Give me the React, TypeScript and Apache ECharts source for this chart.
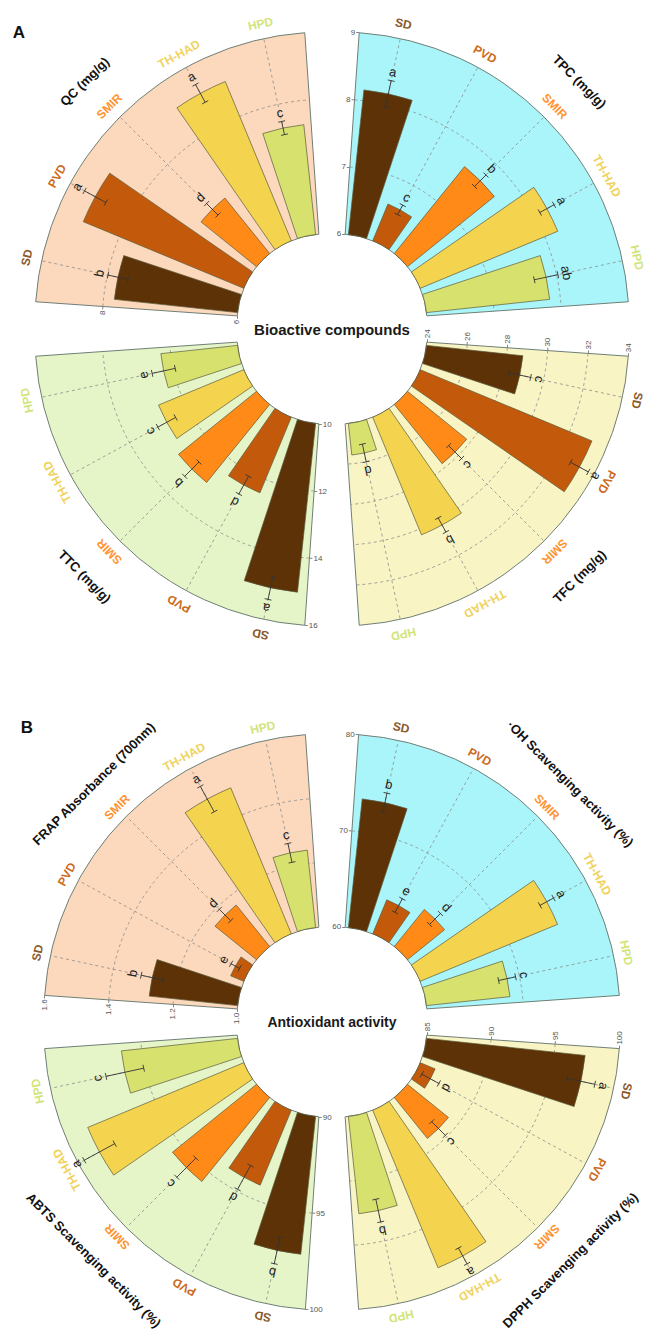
import React, { useEffect, useRef } from 'react';
import * as echarts from 'echarts';

const CATEGORIES = ['SD', 'PVD', 'SMIR', 'TH-HAD', 'HPD'];
const BAR_COLORS = ['#5d3206', '#c35a0b', '#ff8a18', '#f4d44e', '#d7e26e'];
const LABEL_COLORS = ['#8a5a2c', '#cc6a20', '#ff9330', '#f0d35e', '#d2e47c'];

// Panel A: bioactive compounds
const QC_VALUES = [7.84, 8.58, 7.06, 8.56, 7.64];
const QC_ERRORS = [0.15, 0.18, 0.12, 0.15, 0.1];
const QC_LETTERS = ['b', 'a', 'd', 'a', 'c'];
const QC_RANGE = [6, 9];
const QC_STEP = 2;

const TPC_VALUES = [8.16, 6.59, 7.66, 8.21, 7.84];
const TPC_ERRORS = [0.2, 0.08, 0.12, 0.12, 0.18];
const TPC_LETTERS = ['a', 'c', 'b', 'a', 'ab'];
const TPC_RANGE = [6, 9];
const TPC_STEP = 1;

const TFC_VALUES = [28.8, 33.2, 27.77, 30.3, 25.57];
const TFC_ERRORS = [0.55, 0.5, 0.45, 0.4, 0.45];
const TFC_LETTERS = ['c', 'a', 'c', 'b', 'd'];
const TFC_RANGE = [24, 34];
const TFC_STEP = 2;

const TTC_VALUES = [15.04, 12.43, 12.98, 12.74, 12.29];
const TTC_ERRORS = [0.35, 0.3, 0.3, 0.3, 0.35];
const TTC_LETTERS = ['a', 'd', 'b', 'c', 'e'];
const TTC_RANGE = [10, 16];
const TTC_STEP = 2;

// Panel B: antioxidant activity
const FRAP_VALUES = [1.276, 1.044, 1.166, 1.491, 1.242];
const FRAP_ERRORS = [0.035, 0.015, 0.025, 0.045, 0.03];
const FRAP_LETTERS = ['b', 'e', 'd', 'a', 'c'];
const FRAP_RANGE = [1.0, 1.6];
const FRAP_STEP = 0.2;

const OH_VALUES = [73.4, 63.8, 64.95, 75.4, 68.7];
const OH_ERRORS = [1.0, 0.8, 0.8, 0.8, 0.9];
const OH_LETTERS = ['b', 'e', 'd', 'a', 'c'];
const OH_RANGE = [60, 80];
const OH_STEP = 10;

const DPPH_VALUES = [97.4, 86.25, 89.1, 98.25, 92.6];
const DPPH_ERRORS = [1.1, 0.75, 0.75, 0.7, 0.9];
const DPPH_LETTERS = ['a', 'd', 'c', 'a', 'b'];
const DPPH_RANGE = [85, 100];
const DPPH_STEP = 5;

const ABTS_VALUES = [97.18, 94.2, 95.6, 98.75, 96.05];
const ABTS_ERRORS = [0.7, 0.7, 0.7, 0.9, 1.0];
const ABTS_LETTERS = ['b', 'd', 'c', 'a', 'c'];
const ABTS_RANGE = [90, 100];
const ABTS_STEP = 5;

const BG_PEACH = '#fcd9bc';
const BG_CYAN = '#aaf5fa';
const BG_YELLOW = '#f8f4c4';
const BG_GREEN = '#e6f5c8';

const FONT = '"Liberation Sans", Arial, Helvetica, sans-serif';

const POSITIONS: any = {
  tl: { start: 176, end: 94, dx: -1, dy: -1, labelRotate: 90 },
  tr: { start: 86, end: 4, dx: 1, dy: -1, labelRotate: 0 },
  br: { start: 356, end: 274, dx: 1, dy: 1, labelRotate: 90 },
  bl: { start: 266, end: 184, dx: -1, dy: 1, labelRotate: 0 },
};

const OFFSET = 7;
const INNER = 88;

const PANELS = [
  {
    letter: 'A', letterPos: [19, 32], title: 'Bioactive compounds', titleSize: 15,
    cx: 332, cy: 329, outer: 290, labelGap: 15, titleGap: 50,
    quadrants: [
      { pos: 'tl', title: 'QC (mg/g)', values: QC_VALUES, errors: QC_ERRORS, letters: QC_LETTERS, range: QC_RANGE, step: QC_STEP, bg: BG_PEACH, showMax: false, decimals: 0 },
      { pos: 'tr', title: 'TPC (mg/g)', values: TPC_VALUES, errors: TPC_ERRORS, letters: TPC_LETTERS, range: TPC_RANGE, step: TPC_STEP, bg: BG_CYAN, showMax: true, decimals: 0 },
      { pos: 'br', title: 'TFC (mg/g)', values: TFC_VALUES, errors: TFC_ERRORS, letters: TFC_LETTERS, range: TFC_RANGE, step: TFC_STEP, bg: BG_YELLOW, showMax: true, decimals: 0 },
      { pos: 'bl', title: 'TTC (mg/g)', values: TTC_VALUES, errors: TTC_ERRORS, letters: TTC_LETTERS, range: TTC_RANGE, step: TTC_STEP, bg: BG_GREEN, showMax: true, decimals: 0 },
    ],
  },
  {
    letter: 'B', letterPos: [27, 727], title: 'Antioxidant activity', titleSize: 14,
    cx: 332, cy: 1022, outer: 281, labelGap: 13, titleGap: 46,
    quadrants: [
      { pos: 'tl', title: 'FRAP Absorbance (700nm)', values: FRAP_VALUES, errors: FRAP_ERRORS, letters: FRAP_LETTERS, range: FRAP_RANGE, step: FRAP_STEP, bg: BG_PEACH, showMax: true, decimals: 1 },
      { pos: 'tr', title: '·OH Scavenging activity (%)', values: OH_VALUES, errors: OH_ERRORS, letters: OH_LETTERS, range: OH_RANGE, step: OH_STEP, bg: BG_CYAN, showMax: true, decimals: 0 },
      { pos: 'br', title: 'DPPH Scavenging activity (%)', values: DPPH_VALUES, errors: DPPH_ERRORS, letters: DPPH_LETTERS, range: DPPH_RANGE, step: DPPH_STEP, bg: BG_YELLOW, showMax: true, decimals: 0 },
      { pos: 'bl', title: 'ABTS Scavenging activity (%)', values: ABTS_VALUES, errors: ABTS_ERRORS, letters: ABTS_LETTERS, range: ABTS_RANGE, step: ABTS_STEP, bg: BG_GREEN, showMax: true, decimals: 0 },
    ],
  },
];

function buildOption() {
  const polar: any[] = [];
  const angleAxis: any[] = [];
  const radiusAxis: any[] = [];
  const series: any[] = [];
  const graphic: any[] = [];

  PANELS.forEach((panel) => {
    graphic.push({
      type: 'text', x: panel.letterPos[0], y: panel.letterPos[1], z: 10,
      style: { text: panel.letter, fill: '#111', fontSize: 17, fontWeight: 'bold', fontFamily: FONT, align: 'center', verticalAlign: 'middle' },
    });
    graphic.push({
      type: 'text', x: panel.cx, y: panel.cy, z: 10,
      style: { text: panel.title, fill: '#1a1a1a', fontSize: panel.titleSize, fontWeight: 'bold', fontFamily: FONT, align: 'center', verticalAlign: 'middle' },
    });

    panel.quadrants.forEach((q: any) => {
      const k = polar.length;
      const g = POSITIONS[q.pos];
      const cx = panel.cx + g.dx * OFFSET;
      const cy = panel.cy + g.dy * OFFSET;
      const [min, max] = q.range;
      const n = CATEGORIES.length;
      const tickCount = Math.round((max - min) / q.step + 1e-9);
      const ticks: number[] = [];
      for (let j = 1; j <= tickCount; j++) {
        const t = min + j * q.step;
        if (t < max - 1e-9) ticks.push(t);
      }

      polar.push({ center: [cx, cy], radius: [INNER, panel.outer] });
      angleAxis.push({
        polarIndex: k, type: 'category', data: CATEGORIES,
        startAngle: g.start, endAngle: g.end, clockwise: true, boundaryGap: true,
        axisLine: { show: false }, axisTick: { show: false }, axisLabel: { show: false },
        splitLine: { show: false }, splitArea: { show: false },
      });
      radiusAxis.push({
        polarIndex: k, type: 'value', min, max, interval: q.step, startValue: min,
        axisLine: { show: false },
        axisTick: { show: true, length: 3, lineStyle: { color: '#666', width: 0.8 } },
        axisLabel: {
          show: true, fontSize: 8, color: '#555', fontFamily: FONT, margin: 4,
          rotate: g.labelRotate, showMaxLabel: q.showMax,
          formatter: (v: number) => v.toFixed(q.decimals),
        },
        splitLine: { show: false }, splitArea: { show: false },
      });

      // quadrant background, dashed grid arcs, radial dashed lines
      series.push({
        type: 'custom', coordinateSystem: 'polar', polarIndex: k, z: 1, silent: true,
        data: CATEGORIES.map((_, i) => [max, i]),
        renderItem: (params: any, api: any) => {
          const i = api.value(1);
          const a = api.coord([min, i]);
          const b = api.coord([max, i]);
          const children: any[] = [];
          if (i === 0) {
            const p4 = api.coord([max, n - 1]);
            const t0 = Math.atan2(b[1] - cy, b[0] - cx);
            const t4 = Math.atan2(p4[1] - cy, p4[0] - cx);
            let diff = t4 - t0;
            while (diff > Math.PI) diff -= 2 * Math.PI;
            while (diff < -Math.PI) diff += 2 * Math.PI;
            const half = diff / (n - 1) / 2;
            const r0 = Math.hypot(a[0] - cx, a[1] - cy);
            const r = Math.hypot(b[0] - cx, b[1] - cy);
            const sa = t0 - half;
            const ea = t0 + diff + half;
            children.push({
              type: 'sector',
              shape: { cx, cy, r0, r, startAngle: sa, endAngle: ea, clockwise: diff > 0 },
              style: { fill: q.bg, stroke: '#6f7f76', lineWidth: 1 },
            });
            ticks.forEach((t) => {
              const p = api.coord([t, 0]);
              const rr = Math.hypot(p[0] - cx, p[1] - cy);
              children.push({
                type: 'arc',
                shape: { cx, cy, r: rr, startAngle: sa, endAngle: ea, clockwise: diff > 0 },
                style: { fill: 'none', stroke: '#8c8c8c', lineWidth: 0.8, lineDash: [3, 3] },
              });
            });
          }
          children.push({
            type: 'line', shape: { x1: a[0], y1: a[1], x2: b[0], y2: b[1] },
            style: { stroke: '#8c8c8c', lineWidth: 0.8, lineDash: [3, 3] },
          });
          return { type: 'group', children };
        },
      });

      series.push({
        type: 'bar', coordinateSystem: 'polar', polarIndex: k, z: 2, silent: true,
        barCategoryGap: '26%',
        itemStyle: { borderColor: '#5a5a3c', borderWidth: 0.7 },
        data: q.values.map((v: number, i: number) => ({ value: v, itemStyle: { color: BAR_COLORS[i] } })),
      });

      // error bars, significance letters, category labels and title
      series.push({
        type: 'custom', coordinateSystem: 'polar', polarIndex: k, z: 3, silent: true,
        data: q.values.map((v: number, i: number) => [v, i, q.errors[i]]),
        renderItem: (params: any, api: any) => {
          const v = api.value(0);
          const i = api.value(1);
          const s = api.value(2);
          const lo = api.coord([v - s, i]);
          const hi = api.coord([v + s, i]);
          const pm = api.coord([max, i]);
          const dx = pm[0] - cx;
          const dy = pm[1] - cy;
          const len = Math.hypot(dx, dy);
          const ux = dx / len;
          const uy = dy / len;
          const nx = -uy;
          const ny = ux;
          const rot = Math.atan2(-uy, ux) - Math.PI / 2;
          const cap = 3.5;
          const stroke = '#333';
          const children: any[] = [
            { type: 'line', shape: { x1: lo[0], y1: lo[1], x2: hi[0], y2: hi[1] }, style: { stroke, lineWidth: 0.9 } },
            { type: 'line', shape: { x1: lo[0] - nx * cap, y1: lo[1] - ny * cap, x2: lo[0] + nx * cap, y2: lo[1] + ny * cap }, style: { stroke, lineWidth: 0.9 } },
            { type: 'line', shape: { x1: hi[0] - nx * cap, y1: hi[1] - ny * cap, x2: hi[0] + nx * cap, y2: hi[1] + ny * cap }, style: { stroke, lineWidth: 0.9 } },
            {
              type: 'text', x: hi[0] + ux * 9, y: hi[1] + uy * 9, rotation: rot,
              style: { text: q.letters[params.dataIndex], fill: '#222', fontSize: 13, fontFamily: FONT, align: 'center', verticalAlign: 'middle' },
            },
            {
              type: 'text', x: pm[0] + ux * panel.labelGap, y: pm[1] + uy * panel.labelGap, rotation: rot,
              style: { text: CATEGORIES[i], fill: LABEL_COLORS[i], fontSize: 12, fontWeight: 'bold', fontFamily: FONT, align: 'center', verticalAlign: 'middle' },
            },
          ];
          if (i === 2) {
            const flip = uy > 0 ? Math.PI : 0;
            children.push({
              type: 'text', x: pm[0] + ux * panel.titleGap, y: pm[1] + uy * panel.titleGap, rotation: rot + flip,
              style: { text: q.title, fill: '#111', fontSize: 13, fontWeight: 'bold', fontFamily: FONT, align: 'center', verticalAlign: 'middle' },
            });
          }
          return { type: 'group', children };
        },
      });
    });
  });

  return { animation: false, backgroundColor: '#ffffff', polar, angleAxis, radiusAxis, series, graphic };
}

export default function App() {
  const ref = useRef<HTMLDivElement>(null);
  useEffect(() => {
    if (!ref.current) return;
    const chart = echarts.init(ref.current, undefined, { renderer: 'svg' });
    chart.setOption(buildOption() as any);
    return () => chart.dispose();
  }, []);
  return (
    <div
      ref={ref}
      style={{ position: 'absolute', left: 0, top: 0, width: 651, height: 1331, background: '#fff' }}
    />
  );
}
